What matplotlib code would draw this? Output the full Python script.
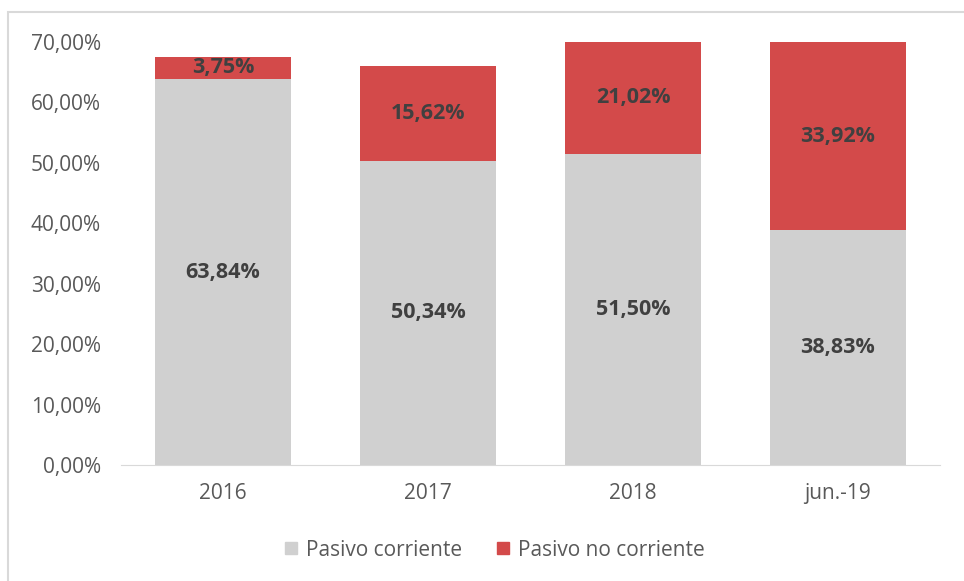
import numpy as np
import matplotlib.pyplot as plt
from matplotlib.patches import Rectangle
from matplotlib.lines import Line2D
from matplotlib.ticker import FuncFormatter

# Data
categories = ["2016", "2017", "2018", "jun.-19"]
corriente = [63.84, 50.34, 51.50, 38.83]
no_corriente = [3.75, 15.62, 21.02, 33.92]
series_names = ["Pasivo corriente", "Pasivo no corriente"]

gray = "#D0D0D0"
red = "#D34A4A"
txt = "#595959"
ymax = 70

plt.rcParams['font.family'] = ['Open Sans', 'DejaVu Sans']

fig = plt.figure(figsize=(9.64, 5.81), dpi=100)
ax = fig.add_axes([0.125, 0.1997, 0.8506, 0.728])

x = np.arange(len(categories))
w = 0.66
ax.bar(x, corriente, w, color=gray, zorder=2)
ax.bar(x, no_corriente, w, bottom=corriente, color=red, zorder=2)

# data labels in the middle of the visible part of each segment
for i in range(len(categories)):
    b = corriente[i]
    ax.text(x[i], b / 2, f"{b:.2f}%".replace(".", ","), ha="center", va="center",
            fontsize=15.5, fontweight="bold", color="#404040")
    top = min(b + no_corriente[i], ymax)
    ax.text(x[i], (b + top) / 2, f"{no_corriente[i]:.2f}%".replace(".", ","),
            ha="center", va="center", fontsize=15.5, fontweight="bold", color="#404040")

ax.set_xlim(-0.5, len(categories) - 0.5)
ax.set_ylim(0, ymax)
ax.set_yticks(np.arange(0, ymax + 1, 10))
ax.yaxis.set_major_formatter(FuncFormatter(lambda v, p: f"{v:.2f}%".replace(".", ",")))
ax.set_xticks(x)
ax.set_xticklabels(categories)
ax.tick_params(axis="both", length=0, labelsize=15, colors=txt)
ax.tick_params(axis="x", pad=13)
ax.tick_params(axis="y", pad=14)
for s in ["top", "right", "left"]:
    ax.spines[s].set_visible(False)
ax.spines["bottom"].set_color("#D9D9D9")

handles = [Line2D([], [], marker="s", linestyle="none", markersize=8, color=c)
           for c in [gray, red]]
fig.legend(handles, series_names, loc="center", bbox_to_anchor=(0.511, 0.053), ncol=2,
           frameon=False, fontsize=15, labelcolor=txt, handletextpad=0.2,
           handlelength=1.0, columnspacing=1.5)

# chart area border (left and top edges visible in the reference)
fig.patches.append(Rectangle((8 / 964, -0.05), 1.2, 1 - 12 / 581 + 0.05,
                             transform=fig.transFigure, fill=False,
                             edgecolor="#D9D9D9", linewidth=1.5))

fig.savefig("out.png", dpi=100)
